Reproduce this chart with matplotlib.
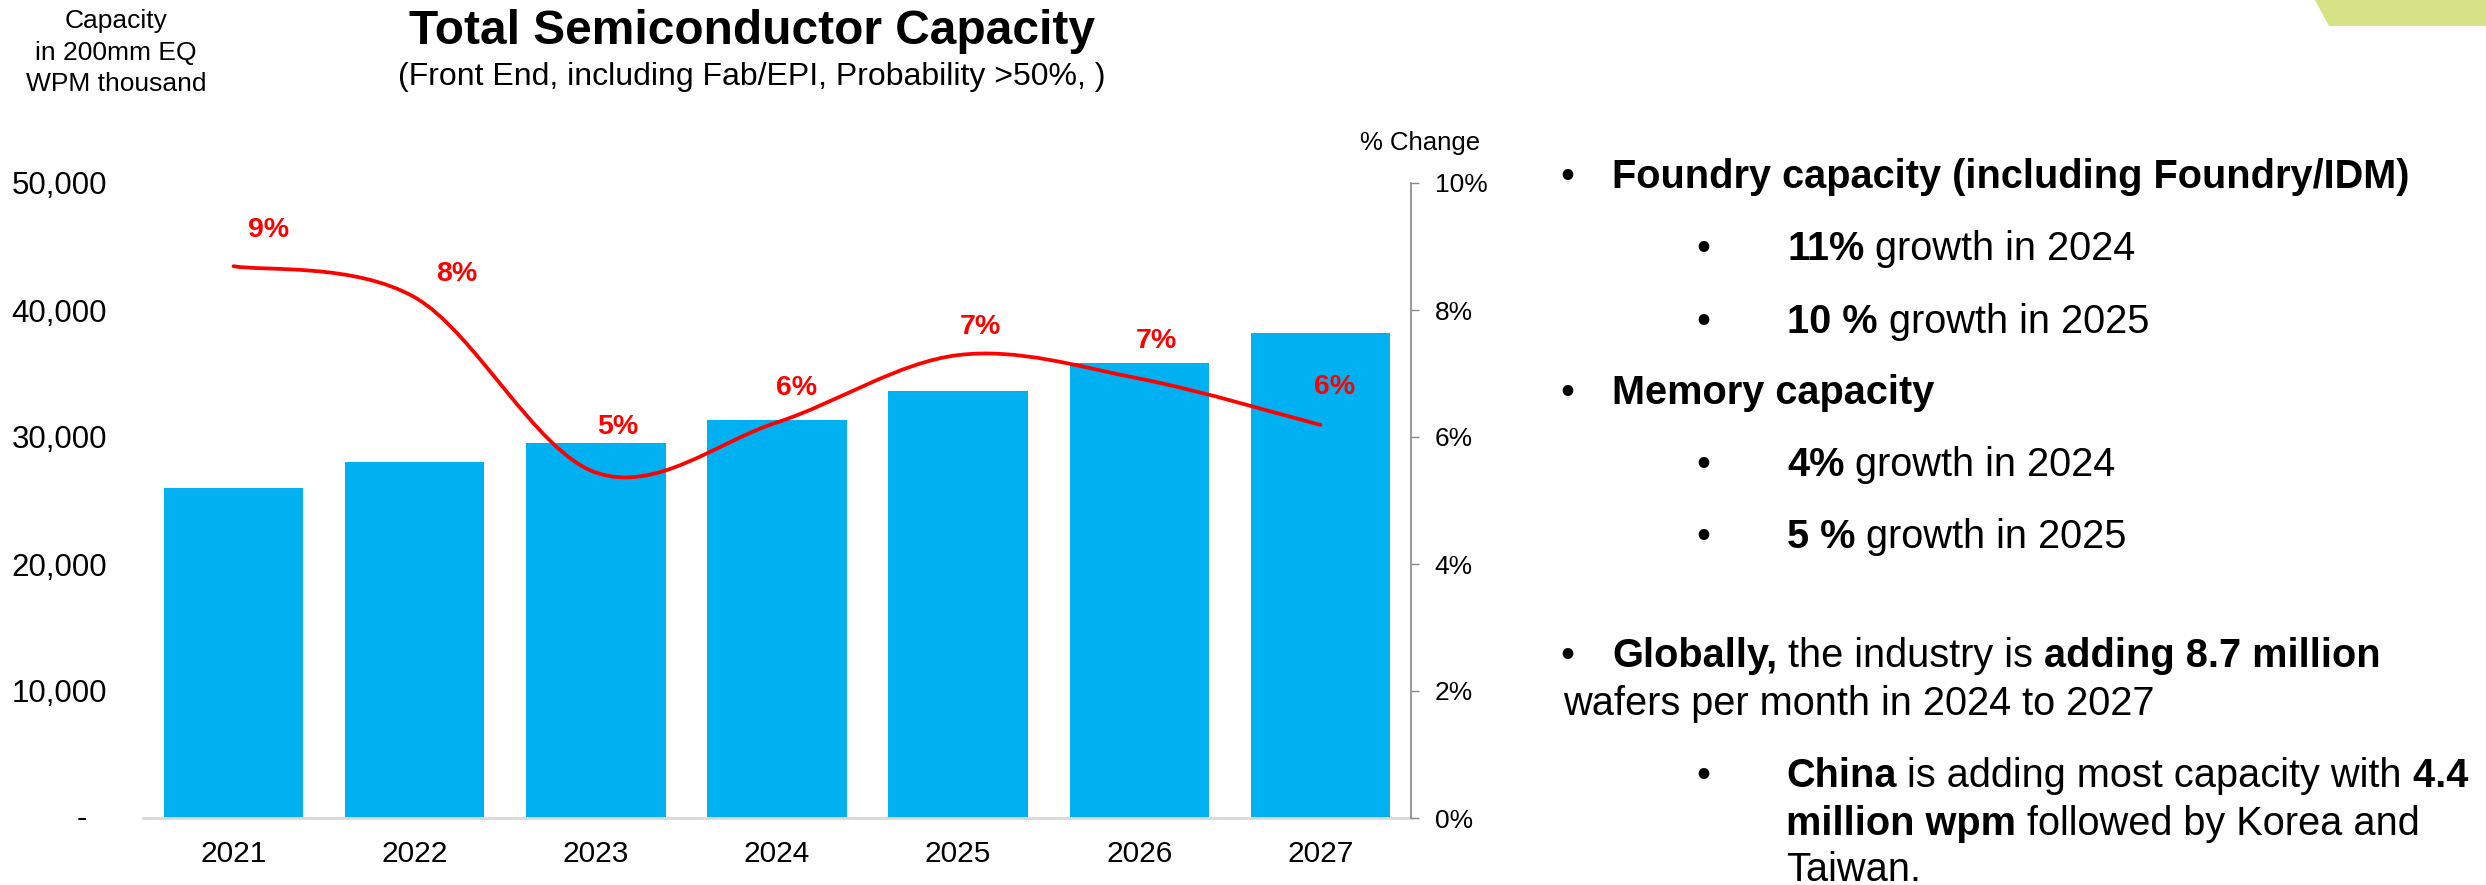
import numpy as np
import matplotlib
matplotlib.use('Agg')
import matplotlib.pyplot as plt
from matplotlib.path import Path
from matplotlib.patches import PathPatch, Polygon
from matplotlib.ticker import FuncFormatter, MultipleLocator

plt.rcParams['font.family'] = ['Liberation Sans', 'DejaVu Sans']

# data
years = ['2021', '2022', '2023', '2024', '2025', '2026', '2027']
capacity = [25950, 28050, 29550, 31350, 33650, 35850, 38200]   # 200mm EQ WPM thousand
pct_change = [8.69, 8.2, 5.44, 6.23, 7.29, 6.92, 6.19]          # % change

# label nudges (points) for the red % labels
label_offsets = [(25, 26), (30, 17), (16, 33), (14, 25), (16, 20), (12, 27), (10, 27)]

W, H = 2486, 885
fig = plt.figure(figsize=(W / 100, H / 100), dpi=100)


def fx(px):
    return px / W


def fy(py):
    return 1 - py / H


# ---- chart ----
ax = fig.add_axes([fx(143), fy(818), fx(1411) - fx(143), fy(183) - fy(818)])
x = np.arange(len(years))
ax.bar(x, capacity, width=0.77, color='#00B0F0', zorder=2)
ax.set_xlim(-0.5, 6.5)
ax.set_ylim(0, 50000)
ax.set_xticks(x, years)
ax.yaxis.set_major_locator(MultipleLocator(10000))
ax.yaxis.set_major_formatter(FuncFormatter(lambda v, p: '' if v == 0 else f'{v:,.0f}'))
ax.tick_params(axis='y', length=0, pad=26, labelsize=22.5)
ax.tick_params(axis='x', length=0, pad=16, labelsize=21.5)
# excel-style dash for zero, sits left of the number column
ax.annotate('-', xy=(0, 0), xycoords='axes fraction', xytext=(-(143 - 82) * 0.72, -1),
            textcoords='offset points', ha='center', va='center', fontsize=22.5)
for s in ['top', 'right', 'left']:
    ax.spines[s].set_visible(False)
ax.spines['bottom'].set_color('#d9d9d9')
ax.spines['bottom'].set_linewidth(2)

ax2 = ax.twinx()
ax2.set_ylim(0, 10)
ax2.yaxis.set_major_locator(MultipleLocator(2))
ax2.yaxis.set_major_formatter(FuncFormatter(lambda v, p: f'{v:.0f}%'))
ax2.tick_params(axis='y', length=6, width=1, color='#868686', pad=11, labelsize=19)
for s in ['top', 'left', 'bottom']:
    ax2.spines[s].set_visible(False)
ax2.spines['right'].set_color('#868686')
ax2.spines['right'].set_linewidth(1.2)

# smoothed line (Catmull-Rom style bezier through the points, like Excel)
pts = np.column_stack([x, pct_change]).astype(float)
ext = np.vstack([pts[0], pts, pts[-1]])
verts = [tuple(pts[0])]
codes = [Path.MOVETO]
for i in range(len(pts) - 1):
    p0, p1, p2, p3 = ext[i], ext[i + 1], ext[i + 2], ext[i + 3]
    verts += [tuple(p1 + (p2 - p0) / 6), tuple(p2 - (p3 - p1) / 6), tuple(p2)]
    codes += [Path.CURVE4] * 3
ax2.add_patch(PathPatch(Path(verts, codes), fill=False, edgecolor='#FF0000',
                        lw=2.7, capstyle='round', zorder=3))

for xi, v, off in zip(x, pct_change, label_offsets):
    ax2.annotate(f'{v:.0f}%', (xi, v), xytext=off, textcoords='offset points',
                 ha='center', va='center', color='#FF0000', fontsize=20.5,
                 fontweight='bold')

fig.text(fx(1420), fy(143), '% Change', ha='center', va='center', fontsize=18.5)

# left axis caption
for txt, base in [('Capacity', 28), ('in 200mm EQ', 60), ('WPM thousand', 91)]:
    fig.text(fx(116), fy(base), txt, ha='center', va='baseline', fontsize=19)

# titles
fig.text(fx(752), fy(44), 'Total Semiconductor Capacity', ha='center', va='baseline',
         fontsize=34.5, fontweight='bold')
fig.text(fx(752), fy(85), '(Front End, including Fab/EPI, Probability >50%, )',
         ha='center', va='baseline', fontsize=23)

# ---- text panel ----
TS = 28.6


def rich_line(xb, xt, y, parts):
    if xb is not None:
        fig.text(fx(xb), fy(y), '\u2022', fontsize=TS, va='baseline', ha='left')
    txt, bold = parts[0]
    t = fig.text(fx(xt), fy(y), txt, fontsize=TS, va='baseline', ha='left',
                 fontweight='bold' if bold else 'normal')
    for txt, bold in parts[1:]:
        t = ax.annotate(txt, xy=(1, 0), xycoords=t, va='bottom', ha='left',
                        fontsize=TS, fontweight='bold' if bold else 'normal',
                        annotation_clip=False)


rich_line(1560, 1612, 188, [('Foundry capacity (including Foundry/IDM)', True)])
rich_line(1696, 1787, 260, [('11%', True), (' growth in 2024', False)])
rich_line(1696, 1787, 333, [('10 %', True), (' growth in 2025', False)])
rich_line(1560, 1612, 404, [('Memory capacity', True)])
rich_line(1696, 1787, 476, [('4%', True), (' growth in 2024', False)])
rich_line(1696, 1787, 548, [('5 %', True), (' growth in 2025', False)])
rich_line(1560, 1612, 667, [('Globally,', True), (' the industry is', False),
                            (' adding 8.7 million', True)])
rich_line(None, 1563, 715, [('wafers per month in 2024 to 2027', False)])
rich_line(1696, 1786, 787, [('China', True), (' is adding most capacity with', False),
                            (' 4.4', True)])
rich_line(None, 1786, 835, [('million wpm', True), (' followed by Korea and', False)])
rich_line(None, 1786, 881, [('Taiwan.', False)])

# green corner tab
fig.add_artist(Polygon([(fx(2315), 1), (1, 1), (1, fy(26)), (fx(2329), fy(26))],
                       closed=True, transform=fig.transFigure,
                       facecolor='#d5e386', edgecolor='none'))

fig.savefig('out.png', dpi=100)
